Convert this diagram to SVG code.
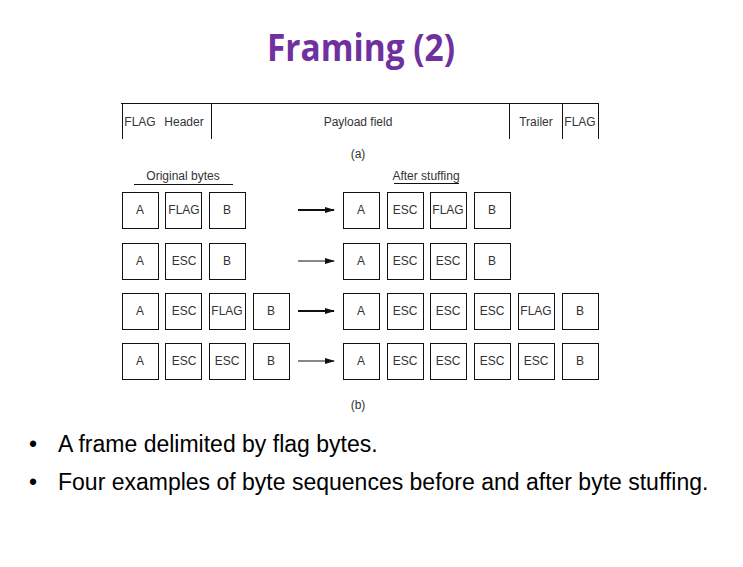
<svg xmlns="http://www.w3.org/2000/svg" width="743" height="567" viewBox="0 0 743 567">
<style>
.t{font-family:"Liberation Sans",Arial,sans-serif;font-size:12px;fill:#333;text-anchor:middle}
.b{fill:#fff;stroke:#111;stroke-width:1}
.l{stroke:#111;stroke-width:1;fill:none}
.bul{font-family:"Liberation Sans",Arial,sans-serif;font-size:23px;fill:#000}
</style>
<defs>
<marker id="ah" markerWidth="10" markerHeight="6" refX="9" refY="3" orient="auto" markerUnits="userSpaceOnUse"><path d="M0,0 L10,3 L0,6 Z" fill="#111"/></marker>
</defs>
<rect width="743" height="567" fill="#fff"/>
<text x="361" y="61" font-family="'Open Sans',sans-serif" font-weight="bold" font-size="38" fill="#7030A0" text-anchor="middle" textLength="188" lengthAdjust="spacingAndGlyphs">Framing (2)</text>

<g id="frame">
<path class="l" d="M121,103.5 H599 M122.5,103.5 V139 M211.5,103.5 V139 M509.5,103.5 V139 M562.5,103.5 V139 M598.5,103.5 V139"/>
<text class="t" x="140" y="126">FLAG</text>
<text class="t" x="184" y="126">Header</text>
<text class="t" x="358" y="126">Payload field</text>
<text class="t" x="536" y="126">Trailer</text>
<text class="t" x="580" y="126">FLAG</text>
<text class="t" x="358" y="158">(a)</text>
</g>

<g id="labels">
<text class="t" x="183" y="180">Original bytes</text>
<line class="l" x1="134" y1="184.5" x2="233" y2="184.5"/>
<text class="t" x="426" y="180">After stuffing</text>
<line class="l" x1="394" y1="183.5" x2="459" y2="183.5"/>
<text class="t" x="358" y="409">(b)</text>
</g>

<g id="row1">
<rect class="b" x="122.5" y="192.5" width="36" height="36"/><text class="t" x="140" y="214">A</text>
<rect class="b" x="165.5" y="192.5" width="36" height="36"/><text class="t" x="184" y="214">FLAG</text>
<rect class="b" x="209.5" y="192.5" width="36" height="36"/><text class="t" x="227" y="214">B</text>
<rect class="b" x="343.5" y="192.5" width="36" height="36"/><text class="t" x="361" y="214">A</text>
<rect class="b" x="387.5" y="192.5" width="36" height="36"/><text class="t" x="405" y="214">ESC</text>
<rect class="b" x="430.5" y="192.5" width="36" height="36"/><text class="t" x="448" y="214">FLAG</text>
<rect class="b" x="474.5" y="192.5" width="36" height="36"/><text class="t" x="492" y="214">B</text>
</g>
<g id="row2">
<rect class="b" x="122.5" y="243.5" width="36" height="36"/><text class="t" x="140" y="265">A</text>
<rect class="b" x="165.5" y="243.5" width="36" height="36"/><text class="t" x="184" y="265">ESC</text>
<rect class="b" x="209.5" y="243.5" width="36" height="36"/><text class="t" x="227" y="265">B</text>
<rect class="b" x="343.5" y="243.5" width="36" height="36"/><text class="t" x="361" y="265">A</text>
<rect class="b" x="387.5" y="243.5" width="36" height="36"/><text class="t" x="405" y="265">ESC</text>
<rect class="b" x="430.5" y="243.5" width="36" height="36"/><text class="t" x="448" y="265">ESC</text>
<rect class="b" x="474.5" y="243.5" width="36" height="36"/><text class="t" x="492" y="265">B</text>
</g>
<g id="row3">
<rect class="b" x="122.5" y="293.5" width="36" height="36"/><text class="t" x="140" y="315">A</text>
<rect class="b" x="165.5" y="293.5" width="36" height="36"/><text class="t" x="184" y="315">ESC</text>
<rect class="b" x="209.5" y="293.5" width="36" height="36"/><text class="t" x="227" y="315">FLAG</text>
<rect class="b" x="253.5" y="293.5" width="36" height="36"/><text class="t" x="271" y="315">B</text>
<rect class="b" x="343.5" y="293.5" width="36" height="36"/><text class="t" x="361" y="315">A</text>
<rect class="b" x="387.5" y="293.5" width="36" height="36"/><text class="t" x="405" y="315">ESC</text>
<rect class="b" x="430.5" y="293.5" width="36" height="36"/><text class="t" x="448" y="315">ESC</text>
<rect class="b" x="474.5" y="293.5" width="36" height="36"/><text class="t" x="492" y="315">ESC</text>
<rect class="b" x="518.5" y="293.5" width="36" height="36"/><text class="t" x="536" y="315">FLAG</text>
<rect class="b" x="562.5" y="293.5" width="36" height="36"/><text class="t" x="580" y="315">B</text>
</g>
<g id="row4">
<rect class="b" x="122.5" y="343.5" width="36" height="36"/><text class="t" x="140" y="365">A</text>
<rect class="b" x="165.5" y="343.5" width="36" height="36"/><text class="t" x="184" y="365">ESC</text>
<rect class="b" x="209.5" y="343.5" width="36" height="36"/><text class="t" x="227" y="365">ESC</text>
<rect class="b" x="253.5" y="343.5" width="36" height="36"/><text class="t" x="271" y="365">B</text>
<rect class="b" x="343.5" y="343.5" width="36" height="36"/><text class="t" x="361" y="365">A</text>
<rect class="b" x="387.5" y="343.5" width="36" height="36"/><text class="t" x="405" y="365">ESC</text>
<rect class="b" x="430.5" y="343.5" width="36" height="36"/><text class="t" x="448" y="365">ESC</text>
<rect class="b" x="474.5" y="343.5" width="36" height="36"/><text class="t" x="492" y="365">ESC</text>
<rect class="b" x="518.5" y="343.5" width="36" height="36"/><text class="t" x="536" y="365">ESC</text>
<rect class="b" x="562.5" y="343.5" width="36" height="36"/><text class="t" x="580" y="365">B</text>
</g>

<g id="connectors">
<line x1="298" y1="210" x2="334" y2="210" stroke="#111" stroke-width="2" marker-end="url(#ah)"/>
<line x1="298" y1="261" x2="334" y2="261" stroke="#111" stroke-width="1" marker-end="url(#ah)"/>
<line x1="298" y1="311" x2="334" y2="311" stroke="#111" stroke-width="2" marker-end="url(#ah)"/>
<line x1="298" y1="361" x2="334" y2="361" stroke="#111" stroke-width="1" marker-end="url(#ah)"/>
</g>

<g id="bullets">
<text class="bul" x="29" y="452">•</text>
<text class="bul" x="58" y="452">A frame delimited by flag bytes.</text>
<text class="bul" x="29" y="490">•</text>
<text class="bul" x="58" y="490">Four examples of byte sequences before and after byte stuffing.</text>
</g>
</svg>
